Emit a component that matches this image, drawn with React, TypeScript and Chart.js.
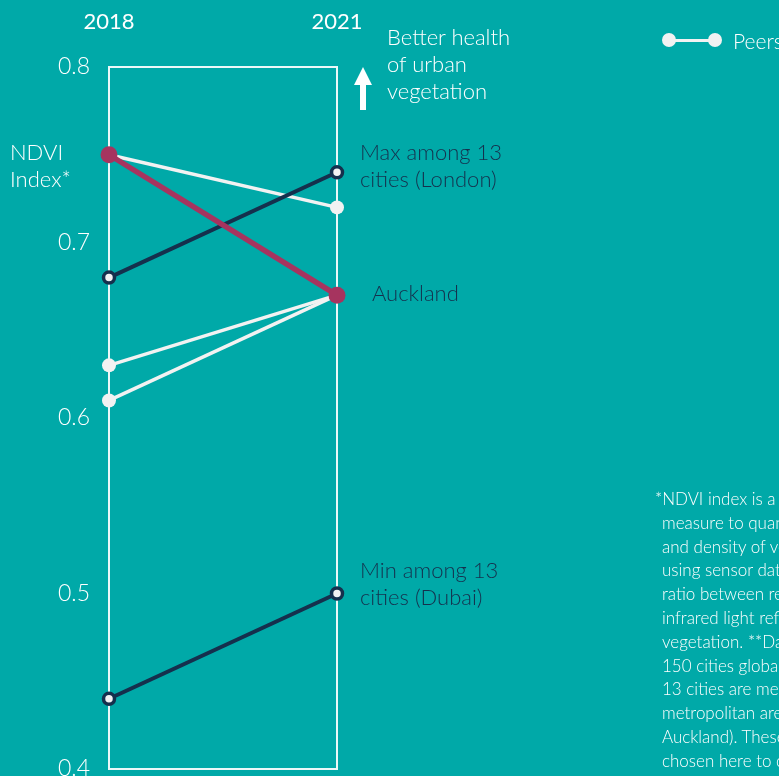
import React, { useEffect, useRef } from 'react';
import { Chart, registerables } from 'chart.js';

Chart.register(...registerables);

const years = ['2018', '2021'];
const auckland = [0.75, 0.67];
const peerA = [0.75, 0.72];
const peerB = [0.63, 0.67];
const peerC = [0.61, 0.67];
const london = [0.68, 0.74];
const dubai = [0.44, 0.5];
const yMin = 0.4;
const yMax = 0.8;
const yStep = 0.1;

const footnoteLines = [
  '*NDVI index is a standard',
  'measure to quantify the health',
  'and density of vegetation',
  'using sensor data, based on the',
  'ratio between red and near-',
  'infrared light reflected by',
  'vegetation. **Data covers',
  '150 cities globally; the',
  '13 cities are measured at the',
  'metropolitan area level (incl.',
  'Auckland). These peers were',
  'chosen here to compare',
];

const BG = '#00A9A8';
const WHITE = '#F2F2F2';
const NAVY = '#15304D';
const MAGENTA = '#A6345F';
const FONT = 'Lato, "Open Sans", sans-serif';

const boxPlugin = {
  id: 'boxPlugin',
  beforeDatasetsDraw(chart: any) {
    const { ctx, chartArea } = chart;
    ctx.save();
    ctx.strokeStyle = 'rgba(255,255,255,0.92)';
    ctx.lineWidth = 2;
    ctx.strokeRect(chartArea.left, chartArea.top, chartArea.right - chartArea.left, chartArea.bottom - chartArea.top);
    ctx.restore();
  },
};

export default function App() {
  const ref = useRef<HTMLCanvasElement | null>(null);

  useEffect(() => {
    if (!ref.current) return;
    const peerStyle = {
      borderColor: WHITE,
      backgroundColor: WHITE,
      borderWidth: 3.5,
      pointRadius: 7,
      pointBorderWidth: 0,
      pointBorderColor: WHITE,
      pointBackgroundColor: WHITE,
      clip: false as any,
    };
    const navyStyle = {
      borderColor: NAVY,
      backgroundColor: NAVY,
      borderWidth: 4,
      pointRadius: 5.5,
      pointBorderWidth: 3.5,
      pointBorderColor: NAVY,
      pointBackgroundColor: WHITE,
      clip: false as any,
    };
    // Chart.js draws dataset 0 on top, so the highlighted series comes first
    const chart = new Chart(ref.current, {
      type: 'line',
      data: {
        labels: years,
        datasets: [
          {
            label: 'Auckland',
            data: auckland,
            borderColor: MAGENTA,
            backgroundColor: MAGENTA,
            borderWidth: 5.5,
            pointRadius: 8.5,
            pointBorderWidth: 0,
            pointBorderColor: MAGENTA,
            pointBackgroundColor: MAGENTA,
            clip: false as any,
          },
          { label: 'London', data: london, ...navyStyle },
          { label: 'Dubai', data: dubai, ...navyStyle },
          { label: 'Peer A', data: peerA, ...peerStyle },
          { label: 'Peer B', data: peerB, ...peerStyle },
          { label: 'Peer C', data: peerC, ...peerStyle },
        ],
      },
      options: {
        responsive: false,
        animation: false,
        devicePixelRatio: 1,
        layout: { padding: { top: 0, left: 0, right: 442, bottom: 31 } },
        plugins: { legend: { display: false }, tooltip: { enabled: false } },
        scales: {
          x: {
            type: 'category',
            position: 'top',
            offset: false,
            grid: { display: false },
            border: { display: false },
            ticks: {
              color: '#FFFFFF',
              padding: 24,
              font: { family: FONT, size: 22, weight: '400' as any },
            },
            afterFit(scale: any) {
              scale.height = 67;
            },
          },
          y: {
            min: yMin,
            max: yMax,
            grid: { display: false },
            border: { display: false },
            ticks: {
              stepSize: yStep,
              color: '#FFFFFF',
              padding: 11,
              font: { family: FONT, size: 23, weight: '300' as any },
              callback: (v: any) => Number(v).toFixed(1),
            },
            afterFit(scale: any) {
              scale.width = 109;
            },
          },
        },
      },
      plugins: [boxPlugin],
    });
    return () => chart.destroy();
  }, []);

  const abs = (x: number, y: number): React.CSSProperties => ({ position: 'absolute', left: x, top: y, whiteSpace: 'nowrap' });

  return (
    <div
      style={{
        position: 'fixed',
        left: 0,
        top: 0,
        width: 779,
        height: 776,
        overflow: 'hidden',
        background: BG,
        fontFamily: FONT,
        fontWeight: 300,
        color: '#FFFFFF',
      }}
    >
      <canvas ref={ref} width={779} height={800} style={{ position: 'absolute', left: 0, top: 0 }} />

      <div style={{ ...abs(10, 138), fontSize: 22, lineHeight: '27px' }}>
        NDVI
        <br />
        Index*
      </div>

      <div style={{ ...abs(387, 23), fontSize: 22, lineHeight: '27px' }}>
        Better health
        <br />
        of urban
        <br />
        vegetation
      </div>
      <div style={{ position: 'absolute', left: 360, top: 83, width: 6, height: 27, background: '#FFFFFF' }} />
      <div
        style={{
          position: 'absolute',
          left: 354,
          top: 67,
          width: 0,
          height: 0,
          borderLeft: '9px solid transparent',
          borderRight: '9px solid transparent',
          borderBottom: '18px solid #FFFFFF',
        }}
      />

      <div style={{ ...abs(360, 138), fontSize: 22, lineHeight: '27px', color: NAVY }}>
        Max among 13
        <br />
        cities (London)
      </div>
      <div style={{ ...abs(372, 279), fontSize: 22, lineHeight: '27px', color: NAVY }}>Auckland</div>
      <div style={{ ...abs(360, 556), fontSize: 22, lineHeight: '27px', color: NAVY }}>
        Min among 13
        <br />
        cities (Dubai)
      </div>

      <div style={{ position: 'absolute', left: 669, top: 39, width: 46, height: 2.5, background: WHITE }} />
      <div style={{ position: 'absolute', left: 662, top: 33, width: 14, height: 14, borderRadius: 7, background: WHITE }} />
      <div style={{ position: 'absolute', left: 708, top: 33, width: 14, height: 14, borderRadius: 7, background: WHITE }} />
      <div style={{ ...abs(733, 27), fontSize: 21, lineHeight: '27px' }}>Peers</div>

      <div style={{ ...abs(655, 487), fontSize: 17, lineHeight: '23.8px' }}>
        {footnoteLines.map((l, i) => (
          <div key={i} style={{ paddingLeft: i === 0 ? 0 : 7 }}>
            {l}
          </div>
        ))}
      </div>
    </div>
  );
}
